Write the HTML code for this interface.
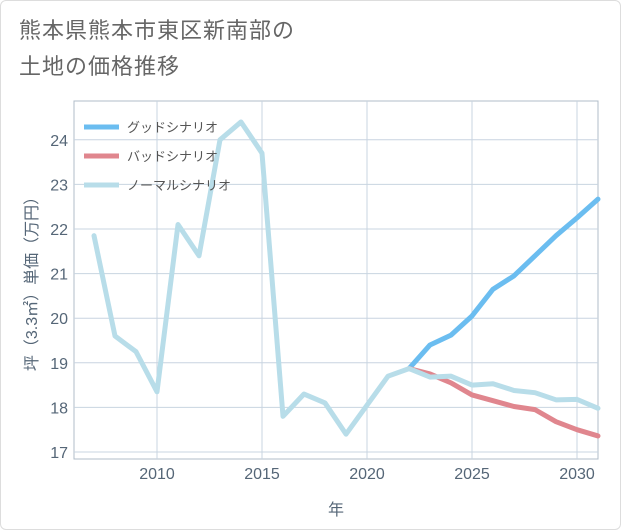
<!DOCTYPE html>
<html><head><meta charset="utf-8"><style>
body{margin:0;background:#fff;}
#wrap{position:relative;width:621px;height:530px;background:#fff;border:1px solid #ddd;box-sizing:border-box;border-radius:6px;overflow:hidden;font-family:"Liberation Sans","Noto Sans CJK JP",sans-serif;}
#title{position:absolute;left:18px;top:12px;font-size:22px;line-height:36px;color:#666;letter-spacing:1px;}
</style></head><body>
<div id="wrap">
<div id="title">熊本県熊本市東区新南部の<br>土地の価格推移</div>
<svg id="chart" width="621" height="530" style="position:absolute;left:0;top:0"></svg>
</div>
<script>
const years=[2007,2008,2009,2010,2011,2012,2013,2014,2015,2016,2017,2018,2019,2020,2021,2022,2023,2024,2025,2026,2027,2028,2029,2030,2031];
const normalVals=[21.85,19.6,19.25,18.35,22.1,21.4,24.0,24.4,23.7,17.8,18.3,18.1,17.4,18.05,18.7,18.87,18.68,18.7,18.5,18.53,18.38,18.33,18.17,18.18,17.98];
const goodYears=[2022,2023,2024,2025,2026,2027,2028,2029,2030,2031];
const goodVals=[18.87,19.4,19.62,20.05,20.65,20.95,21.4,21.85,22.25,22.67];
const badVals=[18.87,18.75,18.55,18.28,18.15,18.02,17.95,17.68,17.5,17.36];
const xTicks=[2010,2015,2020,2025,2030];
const yTicks=[17,18,19,20,21,22,23,24];
const legendLabels=["グッドシナリオ","バッドシナリオ","ノーマルシナリオ"];
const NS="http://www.w3.org/2000/svg";
const svg=document.getElementById('chart');
const L=73,R=597,T=100,B=458;
const x=v=>156+(v-2010)*21;
const y=v=>451-(v-17)*44.6;
function mk(t,a){const e=document.createElementNS(NS,t);for(const k in a)e.setAttribute(k,a[k]);svg.appendChild(e);return e;}
const frame=mk('rect',{x:L,y:T,width:R-L,height:B-T,fill:'none',stroke:'#b0bcc8'});


xTicks.forEach(t=>{
 const g=mk('line',{x1:x(t),x2:x(t),y1:T,y2:B,stroke:'#c8d4e0'});
 
 
 const l=mk('text',{x:x(t),y:B+20,'text-anchor':'middle','font-size':16,fill:'#556677'});
 l.textContent=t;
 
 
});
yTicks.forEach(t=>{
 const g=mk('line',{x1:L,x2:R,y1:y(t),y2:y(t),stroke:'#c8d4e0'});
 
 
 const l=mk('text',{x:L-6,y:y(t)+6,'text-anchor':'end','font-size':16,fill:'#556677'});
 l.textContent=t;
 
 
});
const xt=mk('text',{x:335,y:514,'text-anchor':'middle','font-size':16,fill:'#556677'});
xt.textContent='年';


const yt=mk('text',{x:0,y:0,'text-anchor':'middle','font-size':16,fill:'#556677',transform:'translate(36,'+((T+B)/2)+') rotate(-90)'});
yt.textContent='坪（3.3㎡）単価（万円）';


function line(xs,vs,col,name){
 const p=mk('polyline',{points:xs.map((a,i)=>x(a)+','+y(vs[i])).join(' '),fill:'none',stroke:col,'stroke-width':5,'stroke-linejoin':'round','stroke-linecap':'round'});
 
 
}
line(goodYears,goodVals,'#6bbdf0','good-scenario-line');
line(goodYears,badVals,'#e0868e','bad-scenario-line');
line(years,normalVals,'#b8dde9','normal-scenario-line');
const cols=['#6bbdf0','#e0868e','#b8dde9'];
legendLabels.forEach((s,i)=>{
 const ly=126+i*29;
 const m=mk('line',{x1:83,x2:118,y1:ly,y2:ly,stroke:cols[i],'stroke-width':5});
 
 
 const t=mk('text',{x:126,y:ly+5,'font-size':13,fill:'#555'});
 t.textContent=s;
 
 
});
</script>
</body></html>
